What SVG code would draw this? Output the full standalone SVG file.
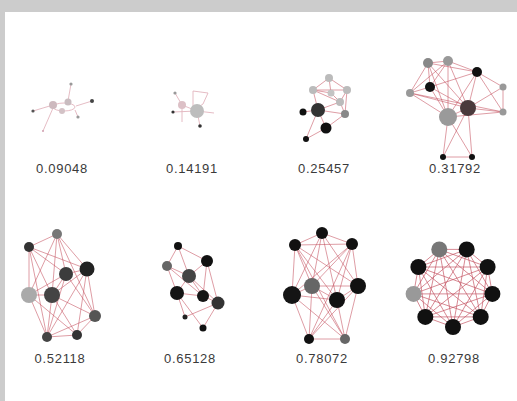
<svg xmlns="http://www.w3.org/2000/svg" width="517" height="401" viewBox="0 0 517 401">
<style>
.lbl{font-family:"Liberation Sans",Arial,sans-serif;font-size:13px;fill:#3a3a3a;text-anchor:middle;letter-spacing:0.7px}
.e{stroke:#c4505f;stroke-width:0.75;stroke-opacity:0.75;fill:none}
.ef{stroke:#e2b4bd;stroke-width:0.9;fill:none}
</style>
<rect x="0" y="0" width="517" height="401" fill="#cccccc"/>
<rect x="5" y="12" width="512" height="389" fill="#ffffff"/>

<g id="connectors">
<!-- graph 1 -->
<g class="ef">
<line x1="33" y1="111" x2="53" y2="105"/>
<ellipse cx="64" cy="107" rx="11" ry="4"/>
<line x1="68" y1="101" x2="71" y2="84"/>
<line x1="76" y1="106" x2="92" y2="101"/>
<line x1="75" y1="110" x2="78" y2="117"/>
<line x1="53" y1="108" x2="43" y2="131"/>
</g>
<!-- graph 2 -->
<g class="ef">
<line x1="175" y1="93" x2="182" y2="105"/>
<line x1="173" y1="112" x2="197" y2="111"/>
<line x1="182" y1="105" x2="197" y2="111"/>
<line x1="197" y1="111" x2="200" y2="126"/>
<line x1="197" y1="111" x2="214" y2="113"/>
<line x1="182" y1="105" x2="182" y2="122"/>
<polyline points="193,106 193,91 208,93 203,104 197,108"/>
</g>
<!-- graph 3 -->
<g class="e">
<line x1="329" y1="78" x2="313" y2="90"/>
<line x1="329" y1="78" x2="347" y2="90"/>
<line x1="313" y1="90" x2="347" y2="90"/>
<line x1="329" y1="78" x2="331" y2="93"/>
<line x1="313" y1="90" x2="331" y2="93"/>
<line x1="331" y1="93" x2="340" y2="102"/>
<line x1="347" y1="90" x2="340" y2="102"/>
<line x1="347" y1="90" x2="345" y2="114"/>
<line x1="313" y1="90" x2="318" y2="110"/>
<line x1="313" y1="90" x2="340" y2="102"/>
<line x1="318" y1="110" x2="340" y2="102"/>
<line x1="318" y1="110" x2="303" y2="112"/>
<line x1="318" y1="110" x2="345" y2="114"/>
<line x1="318" y1="110" x2="326" y2="128"/>
<line x1="326" y1="128" x2="345" y2="114"/>
<line x1="340" y1="102" x2="345" y2="114"/>
<line x1="326" y1="128" x2="306" y2="139"/>
<line x1="318" y1="110" x2="306" y2="139"/>
</g>
<!-- graph 4 -->
<g class="e">
<line x1="428" y1="63" x2="448" y2="61"/>
<line x1="428" y1="63" x2="430" y2="87"/>
<line x1="428" y1="63" x2="410" y2="93"/>
<line x1="428" y1="63" x2="448" y2="117"/>
<line x1="428" y1="63" x2="468" y2="108"/>
<line x1="428" y1="63" x2="477" y2="72"/>
<line x1="448" y1="61" x2="477" y2="72"/>
<line x1="448" y1="61" x2="430" y2="87"/>
<line x1="448" y1="61" x2="448" y2="117"/>
<line x1="448" y1="61" x2="468" y2="108"/>
<line x1="448" y1="61" x2="410" y2="93"/>
<line x1="477" y1="72" x2="503" y2="87"/>
<line x1="477" y1="72" x2="468" y2="108"/>
<line x1="477" y1="72" x2="448" y2="117"/>
<line x1="477" y1="72" x2="430" y2="87"/>
<line x1="477" y1="72" x2="503" y2="112"/>
<line x1="430" y1="87" x2="410" y2="93"/>
<line x1="430" y1="87" x2="448" y2="117"/>
<line x1="430" y1="87" x2="468" y2="108"/>
<line x1="410" y1="93" x2="448" y2="117"/>
<line x1="410" y1="93" x2="468" y2="108"/>
<line x1="410" y1="93" x2="503" y2="112"/>
<line x1="503" y1="87" x2="468" y2="108"/>
<line x1="503" y1="87" x2="503" y2="112"/>
<line x1="503" y1="112" x2="468" y2="108"/>
<line x1="503" y1="112" x2="448" y2="117"/>
<line x1="468" y1="108" x2="448" y2="117"/>
<line x1="448" y1="117" x2="443" y2="157"/>
<line x1="448" y1="117" x2="472" y2="157"/>
<line x1="468" y1="108" x2="443" y2="157"/>
<line x1="468" y1="108" x2="472" y2="157"/>
<line x1="443" y1="157" x2="472" y2="157"/>
</g>
<!-- graph 5 -->
<g class="e">
<line x1="57" y1="234" x2="29" y2="247"/>
<line x1="57" y1="234" x2="66" y2="274"/>
<line x1="57" y1="234" x2="87" y2="269"/>
<line x1="57" y1="234" x2="29" y2="295"/>
<line x1="57" y1="234" x2="52" y2="295"/>
<line x1="57" y1="234" x2="95" y2="316"/>
<line x1="29" y1="247" x2="66" y2="274"/>
<line x1="29" y1="247" x2="87" y2="269"/>
<line x1="29" y1="247" x2="29" y2="295"/>
<line x1="29" y1="247" x2="52" y2="295"/>
<line x1="29" y1="247" x2="47" y2="337"/>
<line x1="66" y1="274" x2="87" y2="269"/>
<line x1="66" y1="274" x2="52" y2="295"/>
<line x1="66" y1="274" x2="29" y2="295"/>
<line x1="66" y1="274" x2="95" y2="316"/>
<line x1="66" y1="274" x2="47" y2="337"/>
<line x1="87" y1="269" x2="95" y2="316"/>
<line x1="87" y1="269" x2="52" y2="295"/>
<line x1="87" y1="269" x2="77" y2="335"/>
<line x1="87" y1="269" x2="47" y2="337"/>
<line x1="29" y1="295" x2="52" y2="295"/>
<line x1="29" y1="295" x2="47" y2="337"/>
<line x1="29" y1="295" x2="77" y2="335"/>
<line x1="52" y1="295" x2="95" y2="316"/>
<line x1="52" y1="295" x2="47" y2="337"/>
<line x1="52" y1="295" x2="77" y2="335"/>
<line x1="95" y1="316" x2="77" y2="335"/>
<line x1="95" y1="316" x2="47" y2="337"/>
<line x1="47" y1="337" x2="77" y2="335"/>
</g>
<!-- graph 6 -->
<g class="e">
<line x1="178" y1="246" x2="207" y2="261"/>
<line x1="178" y1="246" x2="167" y2="266"/>
<line x1="178" y1="246" x2="189" y2="276"/>
<line x1="207" y1="261" x2="189" y2="276"/>
<line x1="207" y1="261" x2="203" y2="296"/>
<line x1="207" y1="261" x2="218" y2="303"/>
<line x1="167" y1="266" x2="189" y2="276"/>
<line x1="167" y1="266" x2="177" y2="293"/>
<line x1="167" y1="266" x2="203" y2="296"/>
<line x1="189" y1="276" x2="177" y2="293"/>
<line x1="189" y1="276" x2="203" y2="296"/>
<line x1="189" y1="276" x2="218" y2="303"/>
<line x1="177" y1="293" x2="203" y2="296"/>
<line x1="177" y1="293" x2="185" y2="317"/>
<line x1="177" y1="293" x2="203" y2="328"/>
<line x1="203" y1="296" x2="218" y2="303"/>
<line x1="218" y1="303" x2="185" y2="317"/>
<line x1="218" y1="303" x2="203" y2="328"/>
</g>
<!-- graph 7 -->
<g class="e">
<line x1="322" y1="233" x2="295" y2="245"/>
<line x1="322" y1="233" x2="352" y2="244"/>
<line x1="295" y1="245" x2="352" y2="244"/>
<line x1="322" y1="233" x2="312" y2="286"/>
<line x1="322" y1="233" x2="358" y2="286"/>
<line x1="322" y1="233" x2="292" y2="295"/>
<line x1="322" y1="233" x2="337" y2="300"/>
<line x1="295" y1="245" x2="312" y2="286"/>
<line x1="295" y1="245" x2="292" y2="295"/>
<line x1="295" y1="245" x2="358" y2="286"/>
<line x1="295" y1="245" x2="337" y2="300"/>
<line x1="295" y1="245" x2="345" y2="339"/>
<line x1="352" y1="244" x2="358" y2="286"/>
<line x1="352" y1="244" x2="312" y2="286"/>
<line x1="352" y1="244" x2="292" y2="295"/>
<line x1="352" y1="244" x2="337" y2="300"/>
<line x1="352" y1="244" x2="309" y2="339"/>
<line x1="358" y1="286" x2="312" y2="286"/>
<line x1="358" y1="286" x2="337" y2="300"/>
<line x1="358" y1="286" x2="345" y2="339"/>
<line x1="358" y1="286" x2="309" y2="339"/>
<line x1="312" y1="286" x2="292" y2="295"/>
<line x1="312" y1="286" x2="337" y2="300"/>
<line x1="312" y1="286" x2="309" y2="339"/>
<line x1="312" y1="286" x2="345" y2="339"/>
<line x1="292" y1="295" x2="337" y2="300"/>
<line x1="292" y1="295" x2="309" y2="339"/>
<line x1="292" y1="295" x2="345" y2="339"/>
<line x1="337" y1="300" x2="309" y2="339"/>
<line x1="337" y1="300" x2="345" y2="339"/>
<line x1="309" y1="339" x2="345" y2="339"/>
</g>
<!-- graph 8: complete graph on 9 nodes -->
<g class="e" style="stroke-width:0.9">
<path d="M453,327 L480.7,316.9 M453,327 L492.4,293.9 M453,327 L487.6,267 M453,327 L466.7,249.4 M453,327 L439.3,249.4 M453,327 L418.4,267 M453,327 L413.6,293.9 M453,327 L425.3,316.9
M480.7,316.9 L492.4,293.9 M480.7,316.9 L487.6,267 M480.7,316.9 L466.7,249.4 M480.7,316.9 L439.3,249.4 M480.7,316.9 L418.4,267 M480.7,316.9 L413.6,293.9 M480.7,316.9 L425.3,316.9
M492.4,293.9 L487.6,267 M492.4,293.9 L466.7,249.4 M492.4,293.9 L439.3,249.4 M492.4,293.9 L418.4,267 M492.4,293.9 L413.6,293.9 M492.4,293.9 L425.3,316.9
M487.6,267 L466.7,249.4 M487.6,267 L439.3,249.4 M487.6,267 L418.4,267 M487.6,267 L413.6,293.9 M487.6,267 L425.3,316.9
M466.7,249.4 L439.3,249.4 M466.7,249.4 L418.4,267 M466.7,249.4 L413.6,293.9 M466.7,249.4 L425.3,316.9
M439.3,249.4 L418.4,267 M439.3,249.4 L413.6,293.9 M439.3,249.4 L425.3,316.9
M418.4,267 L413.6,293.9 M418.4,267 L425.3,316.9
M413.6,293.9 L425.3,316.9"/>
</g>
</g>

<g id="graph1">
<circle cx="53" cy="105" r="4" fill="#cdb9be"/>
<circle cx="68" cy="102" r="3.5" fill="#c9bcc0"/>
<circle cx="62" cy="111" r="3" fill="#d3c2c6"/>
<circle cx="33" cy="111" r="1.6" fill="#555"/>
<circle cx="71" cy="84" r="1.6" fill="#999"/>
<circle cx="92" cy="101" r="2" fill="#444"/>
<circle cx="78" cy="117" r="1.6" fill="#999"/>
<circle cx="43" cy="131" r="1" fill="#d0a0b0"/>
</g>
<g id="graph2">
<circle cx="197" cy="111" r="7" fill="#bdbdbd"/>
<circle cx="182" cy="105" r="4" fill="#dcc0c6"/>
<circle cx="175" cy="93" r="1.6" fill="#999"/>
<circle cx="173" cy="112" r="1.6" fill="#333"/>
<circle cx="200" cy="126" r="1.8" fill="#333"/>
</g>
<g id="graph3">
<circle cx="329" cy="78" r="4" fill="#bbb"/>
<circle cx="313" cy="90" r="4" fill="#bbb"/>
<circle cx="347" cy="90" r="4" fill="#bbb"/>
<circle cx="331" cy="93" r="3.5" fill="#c4c4c4"/>
<circle cx="340" cy="102" r="4" fill="#bbb"/>
<circle cx="345" cy="114" r="4" fill="#888"/>
<circle cx="318" cy="110" r="7" fill="#333"/>
<circle cx="303" cy="112" r="3.5" fill="#111"/>
<circle cx="326" cy="128" r="5.5" fill="#111"/>
<circle cx="306" cy="139" r="3" fill="#111"/>
</g>
<g id="graph4">
<circle cx="428" cy="63" r="5" fill="#888"/>
<circle cx="448" cy="61" r="5" fill="#999"/>
<circle cx="477" cy="72" r="5" fill="#111"/>
<circle cx="430" cy="87" r="5" fill="#111"/>
<circle cx="410" cy="93" r="4" fill="#999"/>
<circle cx="503" cy="87" r="3.5" fill="#999"/>
<circle cx="503" cy="112" r="3.5" fill="#999"/>
<circle cx="468" cy="108" r="8" fill="#4a3a3c"/>
<circle cx="448" cy="117" r="9" fill="#9a9a9a"/>
<circle cx="443" cy="157" r="3" fill="#111"/>
<circle cx="472" cy="157" r="3" fill="#111"/>
</g>
<g id="graph5">
<circle cx="57" cy="234" r="5" fill="#777"/>
<circle cx="29" cy="247" r="5" fill="#333"/>
<circle cx="66" cy="274" r="7" fill="#3c3c3c"/>
<circle cx="87" cy="269" r="7.5" fill="#222"/>
<circle cx="29" cy="295" r="8" fill="#aaa"/>
<circle cx="52" cy="295" r="8" fill="#444"/>
<circle cx="95" cy="316" r="6" fill="#555"/>
<circle cx="47" cy="337" r="5" fill="#444"/>
<circle cx="77" cy="335" r="5" fill="#333"/>
</g>
<g id="graph6">
<circle cx="178" cy="246" r="4" fill="#111"/>
<circle cx="207" cy="261" r="6" fill="#111"/>
<circle cx="167" cy="266" r="5" fill="#666"/>
<circle cx="189" cy="276" r="7" fill="#444"/>
<circle cx="177" cy="293" r="7" fill="#151515"/>
<circle cx="203" cy="296" r="6" fill="#151515"/>
<circle cx="218" cy="303" r="6.5" fill="#333"/>
<circle cx="185" cy="317" r="2.5" fill="#222"/>
<circle cx="203" cy="328" r="3.5" fill="#111"/>
</g>
<g id="graph7">
<circle cx="322" cy="233" r="6" fill="#111"/>
<circle cx="295" cy="245" r="6" fill="#111"/>
<circle cx="352" cy="244" r="6" fill="#111"/>
<circle cx="358" cy="286" r="8" fill="#111"/>
<circle cx="312" cy="286" r="8" fill="#666"/>
<circle cx="292" cy="295" r="9" fill="#151515"/>
<circle cx="337" cy="300" r="8" fill="#111"/>
<circle cx="309" cy="339" r="5" fill="#111"/>
<circle cx="345" cy="339" r="5" fill="#666"/>
</g>
<g id="graph8">
<circle cx="453" cy="327" r="8" fill="#111"/>
<circle cx="480.7" cy="316.9" r="8" fill="#111"/>
<circle cx="492.4" cy="293.9" r="8" fill="#111"/>
<circle cx="487.6" cy="267" r="8" fill="#111"/>
<circle cx="466.7" cy="249.4" r="8" fill="#111"/>
<circle cx="439.3" cy="249.4" r="8" fill="#777"/>
<circle cx="418.4" cy="267" r="8" fill="#111"/>
<circle cx="413.6" cy="293.9" r="8" fill="#999"/>
<circle cx="425.3" cy="316.9" r="8" fill="#111"/>
</g>

<g id="labels">
<text class="lbl" x="62" y="173">0.09048</text>
<text class="lbl" x="192" y="173">0.14191</text>
<text class="lbl" x="324" y="173">0.25457</text>
<text class="lbl" x="455" y="173">0.31792</text>
<text class="lbl" x="60" y="363">0.52118</text>
<text class="lbl" x="190" y="363">0.65128</text>
<text class="lbl" x="322" y="363">0.78072</text>
<text class="lbl" x="454" y="363">0.92798</text>
</g>
</svg>
